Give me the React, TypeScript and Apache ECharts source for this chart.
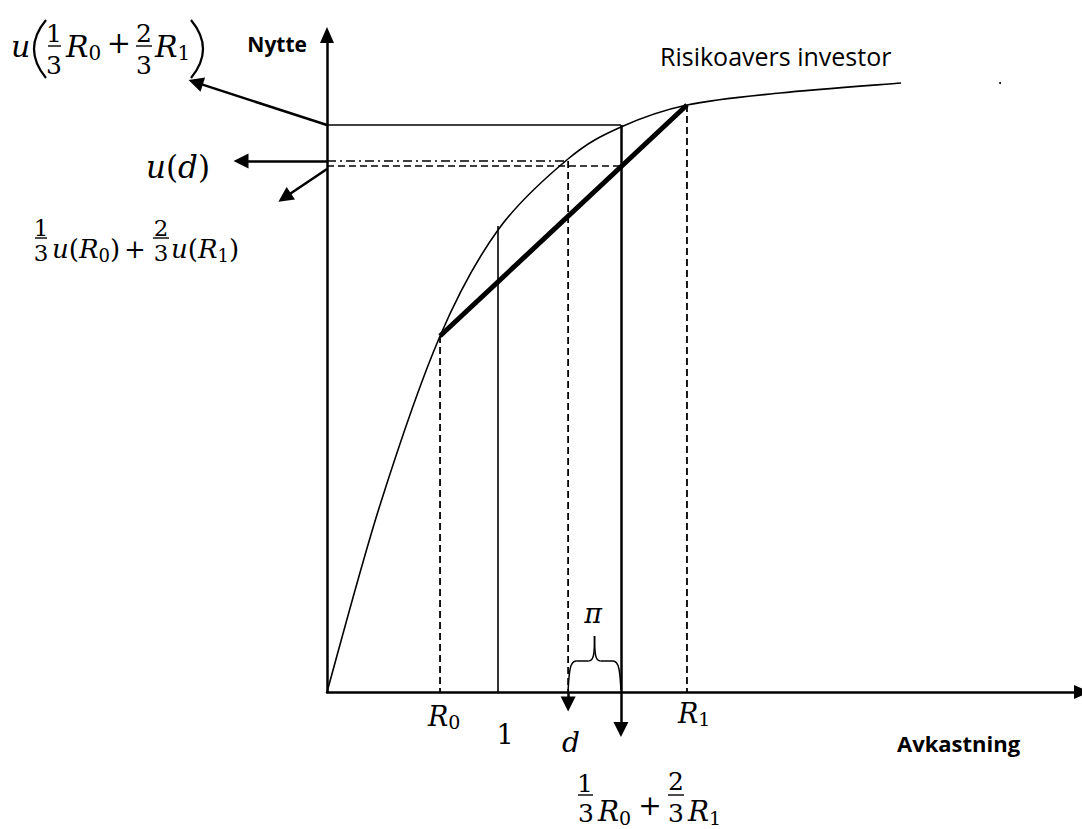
import React, { useEffect, useRef } from "react";
import * as echarts from "echarts";

// Utility curve (return, utility)
const curveReturns = [0, 0.31, 0.661, 1.0, 1.409, 1.719, 2.105, 2.649, 3.357];
const curveUtility = [0, 1.87, 3.56, 4.62, 5.33, 5.65, 5.87, 5.99, 6.09];

// Key returns and utilities
const keyReturns = { R0: 0.661, one: 1, d: 1.41, E: 1.719, R1: 2.105 };
const keyUtility = { uR0: 3.56, oneTop: 4.66, uD: 5.31, EU: 5.26, uE: 5.67, uR1: 5.87 };

// Axis extents
const xRange = [0, 4.415];
const yRange = [0, 6.57];

// Annotation arrows: start and arrow-head centre (return, utility)
const arrowStarts = [
  [0, keyUtility.uE],
  [0, keyUtility.uD],
  [0, 5.23],
  [keyReturns.d, 0],
  [keyReturns.E, keyUtility.uE],
];
const arrowEnds = [
  [-0.768, 6.096],
  [-0.503, 5.31],
  [-0.248, 4.945],
  [keyReturns.d, -0.12],
  [keyReturns.E, -0.375],
];

const MATH = '"DejaVu Serif", serif';
const SANS = '"Open Sans", sans-serif';

function seg(points: number[][], width: number, type: any = "solid") {
  return {
    type: "line",
    data: points,
    showSymbol: false,
    symbol: "none",
    clip: false,
    silent: true,
    lineStyle: { color: "#000", width, type },
  };
}

function it(text: string, x: number, y: number, fs: number, align = "left") {
  return {
    type: "text",
    x,
    y,
    silent: true,
    style: { text, fontFamily: MATH, fontStyle: "italic", fontSize: fs, fill: "#000", align, verticalAlign: "middle" },
  };
}
function up(text: string, x: number, y: number, fs: number, align = "left") {
  return {
    type: "text",
    x,
    y,
    silent: true,
    style: { text, fontFamily: MATH, fontSize: fs, fill: "#000", align, verticalAlign: "middle" },
  };
}
// rich math row: {i|..} italic, {n|..} upright, {s|..} subscript
function mrow(text: string, x: number, y: number, fs: number, sfs: number) {
  return {
    type: "text",
    x,
    y,
    silent: true,
    style: {
      text,
      fill: "#000",
      align: "left",
      verticalAlign: "middle",
      rich: {
        i: { fontFamily: MATH, fontStyle: "italic", fontSize: fs, lineHeight: fs + 4, fill: "#000" },
        n: { fontFamily: MATH, fontSize: fs, lineHeight: fs + 4, fill: "#000" },
        s: { fontFamily: MATH, fontSize: sfs, lineHeight: sfs - 2, verticalAlign: "bottom", fill: "#000" },
      },
    },
  };
}
function bar(x1: number, x2: number, y: number) {
  return { type: "line", silent: true, shape: { x1, y1: y, x2, y2: y }, style: { stroke: "#000", lineWidth: 1.4 } };
}
function qcurve(x1: number, y1: number, cx: number, cy: number, x2: number, y2: number, w = 1.6) {
  return {
    type: "bezierCurve",
    silent: true,
    shape: { x1, y1, x2, y2, cpx1: cx, cpy1: cy },
    style: { stroke: "#000", lineWidth: w, fill: "none" },
  };
}
function ccurve(x1: number, y1: number, c1x: number, c1y: number, c2x: number, c2y: number, x2: number, y2: number, w = 1.5) {
  return {
    type: "bezierCurve",
    silent: true,
    shape: { x1, y1, x2, y2, cpx1: c1x, cpy1: c1y, cpx2: c2x, cpy2: c2y },
    style: { stroke: "#000", lineWidth: w, fill: "none" },
  };
}

export default function App() {
  const ref = useRef<HTMLDivElement>(null);
  useEffect(() => {
    if (!ref.current) return;
    const chart = echarts.init(ref.current, undefined, { renderer: "svg" });
    const { R0, one, d, E, R1 } = keyReturns;
    const { uR0, oneTop, uD, EU, uE, uR1 } = keyUtility;
    const n = curveReturns.length;
    const axisCommon = {
      type: "value",
      axisLine: {
        show: true,
        onZero: true,
        symbol: ["none", "triangle"],
        symbolSize: [14, 16],
        lineStyle: { color: "#000", width: 2.5 },
      },
      axisTick: { show: false },
      axisLabel: { show: false },
      splitLine: { show: false },
    };
    chart.setOption({
      animation: false,
      backgroundColor: "#fff",
      grid: { left: 327, right: 0, top: 35, bottom: 137 },
      xAxis: { ...axisCommon, min: xRange[0], max: xRange[1] },
      yAxis: { ...axisCommon, min: yRange[0], max: yRange[1] },
      series: [
        {
          // utility curve: smooth Catmull-Rom segments through the read points
          type: "custom",
          clip: false,
          silent: true,
          encode: { x: 0, y: 1 },
          data: curveReturns.map((x, i) => [x, curveUtility[i]]),
          renderItem: (params: any, api: any) => {
            const i = params.dataIndex;
            if (i >= n - 1) return null;
            const P = (j: number) => {
              const k = Math.max(0, Math.min(n - 1, j));
              return api.coord([curveReturns[k], curveUtility[k]]);
            };
            const p0 = P(i - 1), p1 = P(i), p2 = P(i + 1), p3 = P(i + 2);
            return {
              type: "bezierCurve",
              shape: {
                x1: p1[0], y1: p1[1],
                cpx1: p1[0] + (p2[0] - p0[0]) / 6, cpy1: p1[1] + (p2[1] - p0[1]) / 6,
                cpx2: p2[0] - (p3[0] - p1[0]) / 6, cpy2: p2[1] - (p3[1] - p1[1]) / 6,
                x2: p2[0], y2: p2[1],
              },
              style: { stroke: "#000", fill: null, lineWidth: 1.6 },
            };
          },
        },
        seg([[R0, uR0], [R1, uR1]], 5),
        seg([[0, uE], [E, uE]], 1.6),
        seg([[0, uD], [d, uD]], 1.7, [9, 4, 2, 4]),
        seg([[0, EU], [E, EU]], 1.7, [7, 4]),
        seg([[d, uD], [d, 0]], 1.8, [7, 4]),
        seg([[R0, uR0], [R0, 0]], 1.8, [7, 4]),
        seg([[R1, uR1], [R1, 0]], 1.8, [7, 4]),
        seg([[one, oneTop], [one, 0]], 1.6),
        {
          type: "lines",
          coordinateSystem: "cartesian2d",
          clip: false,
          silent: true,
          symbol: ["none", "triangle"],
          symbolSize: 15,
          lineStyle: { color: "#000", width: 2.5, opacity: 1, curveness: 0 },
          data: arrowStarts.map((s, i) => ({ coords: [s, arrowEnds[i]] })),
        },
      ],
    });

    const px = (x: number, y: number) => chart.convertToPixel({ gridIndex: 0 }, [x, y]) as number[];
    const pd = px(d, 0);
    const pe = px(E, 0);
    const xl = pd[0];
    const xr = pe[0];
    const xm = (xl + xr) / 2;
    const yb = pd[1] - 2;
    const yh = 661;
    const yt = 636;

    const graphic: any[] = [
      // brace (pi)
      ccurve(xl, yb, xl + 1, yh + 10, xl + 2, yh, xl + 8, yh),
      { type: "line", silent: true, shape: { x1: xl + 8, y1: yh, x2: xm - 6, y2: yh }, style: { stroke: "#000", lineWidth: 1.5 } },
      ccurve(xm - 6, yh, xm - 1, yh, xm, yh - 6, xm, yt),
      ccurve(xm, yt, xm, yh - 6, xm + 1, yh, xm + 6, yh),
      { type: "line", silent: true, shape: { x1: xm + 6, y1: yh, x2: xr - 8, y2: yh }, style: { stroke: "#000", lineWidth: 1.5 } },
      ccurve(xr - 8, yh, xr - 2, yh, xr - 1, yh + 10, xr, yb),
      it("π", 593, 613, 27, "center"),

      // sans labels
      { type: "text", x: 307, y: 44, silent: true, style: { text: "Nytte", fontFamily: SANS, fontWeight: "bold", fontSize: 21, fill: "#000", align: "right", verticalAlign: "middle" } },
      { type: "text", x: 660, y: 55.5, silent: true, style: { text: "Risikoavers investor", fontFamily: SANS, fontSize: 25, fill: "#000", align: "left", verticalAlign: "middle" } },
      { type: "text", x: 897, y: 743, silent: true, style: { text: "Avkastning", fontFamily: SANS, fontWeight: "bold", fontSize: 22, fill: "#000", align: "left", verticalAlign: "middle" } },
      { type: "circle", silent: true, shape: { cx: 1000, cy: 83, r: 1 }, style: { fill: "#000" } },

      // u(1/3 R0 + 2/3 R1)
      it("u", 11, 46, 30),
      qcurve(46, 20, 22, 49, 46, 78, 2.2),
      up("1", 54, 33, 25, "center"),
      bar(48, 61, 46),
      up("3", 54, 65.5, 25, "center"),
      mrow("{i|R}{s|0}", 66, 46, 30, 20),
      up("+", 119, 43, 29, "center"),
      up("2", 144, 33, 25, "center"),
      bar(136, 152, 46),
      up("3", 144, 65.5, 25, "center"),
      mrow("{i|R}{s|1}", 155, 46, 30, 20),
      qcurve(191, 20, 215, 49, 191, 78, 2.2),

      // u(d)
      mrow("{i|u}{n|(}{i|d}{n|)}", 146, 167, 31, 20),

      // 1/3 u(R0) + 2/3 u(R1)
      up("1", 41, 228, 23, "center"),
      bar(35, 47, 238),
      up("3", 41, 253, 23, "center"),
      mrow("{i|u}{n|(}{i|R}{s|0}{n|)}", 52, 249, 26, 18),
      up("+", 135, 248.5, 26, "center"),
      up("2", 161, 228, 23, "center"),
      bar(153, 169, 238),
      up("3", 161, 253, 23, "center"),
      mrow("{i|u}{n|(}{i|R}{s|1}{n|)}", 171, 249, 26, 18),

      // axis labels
      mrow("{i|R}{s|0}", 428, 716, 27, 19),
      up("1", 505, 734, 27, "center"),
      it("d", 562, 742, 28),
      mrow("{i|R}{s|1}", 678, 713, 27, 19),

      // 1/3 R0 + 2/3 R1
      up("1", 585, 783, 25, "center"),
      bar(578, 593, 795),
      up("3", 586, 813.5, 25, "center"),
      mrow("{i|R}{s|0}", 598, 811, 28, 19),
      up("+", 650, 805, 28, "center"),
      up("2", 676, 781, 25, "center"),
      bar(668, 684, 795),
      up("3", 676, 813.5, 25, "center"),
      mrow("{i|R}{s|1}", 688, 811, 28, 19),
    ];
    chart.setOption({ graphic });
    return () => chart.dispose();
  }, []);
  return (
    <div
      ref={ref}
      style={{ position: "fixed", left: 0, top: 0, width: 1082, height: 829, background: "#fff" }}
    />
  );
}
